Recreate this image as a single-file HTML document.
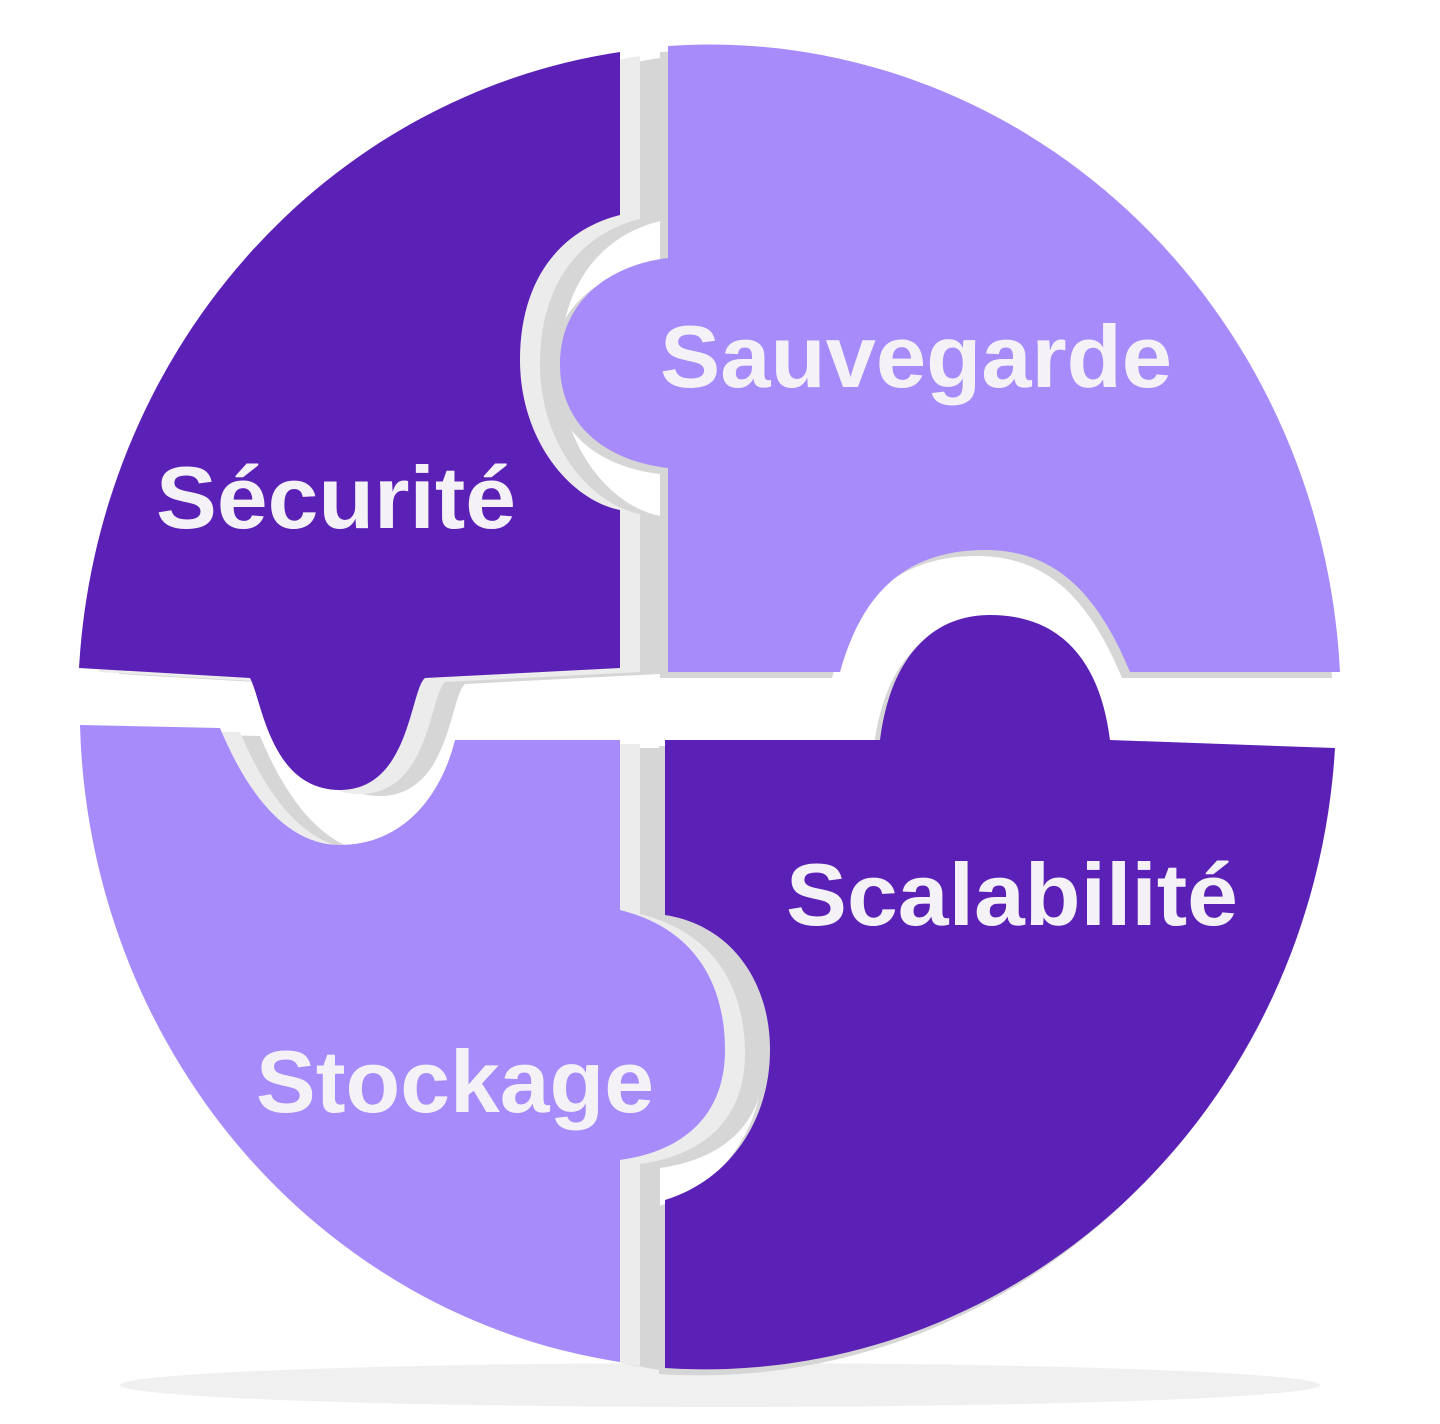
<!DOCTYPE html>
<html><head><meta charset="utf-8"><style>
html,body{margin:0;padding:0;background:#fff;}
svg{display:block;}
text{font-family:"Liberation Sans",sans-serif;font-weight:bold;fill:#f4f2f7;}
</style></head><body>
<svg width="1440" height="1424" viewBox="0 0 1440 1424" xmlns="http://www.w3.org/2000/svg">
<defs>
<path id="p1" d="M79 668 A631 662 0 0 1 620 52 L620 215 C560 230 520 280 520 360 C520 440 570 500 620 510 L620 668 L425 678 C410 690 410 790 340 790 C270 790 262 700 250 678 Z"/>
<path id="p2" d="M668 46 A631 662 0 0 1 1340 672 L1130 672 C1100 600 1060 550 985 550 C900 550 860 600 840 672 L668 672 L668 468 C600 460 560 420 560 365 C560 300 610 265 668 258 Z"/>
<path id="p3" d="M80 725 L220 728 C250 800 290 845 340 845 C400 845 440 800 455 740 L620 740 L620 910 C700 930 725 990 725 1050 C725 1110 690 1150 620 1160 L620 1362 A631 662 0 0 1 80 725 Z"/>
<path id="p4" d="M665 740 L880 740 C890 660 930 615 990 615 C1060 615 1100 660 1110 740 L1335 748 A631 662 0 0 1 665 1368 L665 1200 C730 1180 770 1120 770 1050 C770 980 730 925 665 915 Z"/>
</defs>
<ellipse cx="720" cy="1385" rx="600" ry="22" fill="#f0f0f0"/>
<g fill="#d6d6d6">
<use href="#p1" transform="translate(40,6)"/>
<use href="#p2" transform="translate(-8,6)"/>
<use href="#p3" transform="translate(40,8)"/>
<use href="#p4" transform="translate(-6,6)"/>
</g>
<g fill="#ececec">
<use href="#p1" transform="translate(20,4)"/>
<use href="#p3" transform="translate(20,4)"/>
</g>
<use href="#p1" fill="#5b21b6"/>
<use href="#p2" fill="#a78bfa"/>
<use href="#p3" fill="#a78bfa"/>
<use href="#p4" fill="#5b21b6"/>
<text x="660" y="387" font-size="88" textLength="512" lengthAdjust="spacingAndGlyphs">Sauvegarde</text>
<text x="156" y="528" font-size="88" textLength="360" lengthAdjust="spacingAndGlyphs">Sécurité</text>
<text x="786" y="925" font-size="88" textLength="452" lengthAdjust="spacingAndGlyphs">Scalabilité</text>
<text x="256" y="1112" font-size="88" textLength="398" lengthAdjust="spacingAndGlyphs">Stockage</text>
</svg>
</body></html>
